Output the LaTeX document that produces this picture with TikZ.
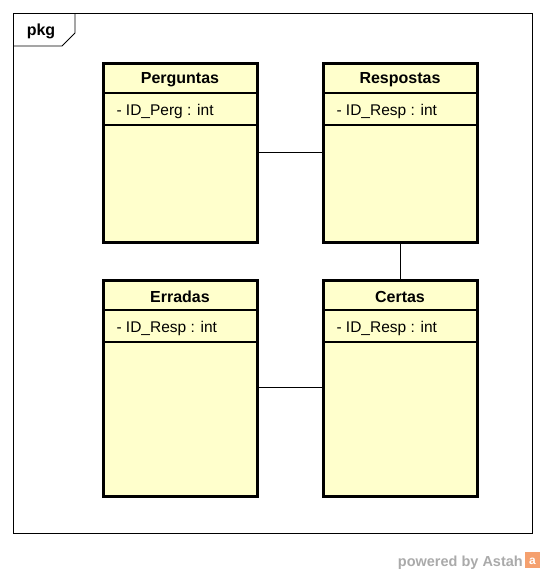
\documentclass[tikz,border=0pt]{standalone}
\usepackage{fontspec}
\setmainfont{Liberation Sans}
\definecolor{clsfill}{RGB}{255,255,204}
\definecolor{wmgray}{RGB}{170,170,170}
\definecolor{astahor}{RGB}{245,160,110}
\tikzset{
  clsbox/.style={draw=black, line width=3pt, fill=clsfill, minimum width=154pt, inner sep=0pt, outer sep=0pt, anchor=north west},
  clstitle/.style={font=\bfseries\fontsize{16}{18}\selectfont, anchor=center},
  clsattr/.style={font=\fontsize{15.5}{18}\selectfont, anchor=west},
  sep/.style={line width=1.3pt},
  conn/.style={draw=black, line width=0.9pt},
}
\begin{document}
\begin{tikzpicture}[x=1pt,y=-1pt]
\useasboundingbox (0,0) rectangle (545,574);
% frame
\draw[line width=0.9pt] (13,13) rectangle (532,533);
\draw[line width=0.9pt] (75,13) -- (75,33) -- (62,46) -- (13,46);
\node[font=\bfseries\fontsize{16}{18}\selectfont] (pkg) at (41,31) {pkg};

% class boxes
\newcommand{\umlclass}[6]{%
  % #1 name, #2 x, #3 y, #4 height, #5 title, #6 attr
  \node[clsbox, minimum height=#4pt] (#1) at (#2,#3) {};
  \draw[sep] ([yshift=-30pt]#1.north west) -- ([yshift=-30pt]#1.north east);
  \draw[sep] ([yshift=-62pt]#1.north west) -- ([yshift=-62pt]#1.north east);
  \node[clstitle] (#1t) at ([yshift=-17pt]#1.north) {#5};
  \node[clsattr] (#1a) at ([xshift=10pt,yshift=-48.5pt]#1.north west) {#6};
}
\umlclass{perg}{103}{63}{179}{Perguntas}{- ID\_Perg : int}
\umlclass{resp}{323}{63}{179}{Respostas}{- ID\_Resp : int}
\umlclass{err}{103}{280}{216}{Erradas}{- ID\_Resp : int}
\umlclass{cert}{323}{280}{216}{Certas}{- ID\_Resp : int}

% connectors
\draw[conn] (perg.east |- 0,152) -- (resp.west |- 0,152);
\draw[conn] (resp.south) -- (cert.north);
\draw[conn] (err.east |- 0,387) -- (cert.west |- 0,387);

% watermark
\node[font=\bfseries\fontsize{14.5}{16}\selectfont, text=wmgray, anchor=base east, inner sep=0pt] (wm) at (523,566) {powered by Astah};
\fill[astahor] (525,552) rectangle (540,568);
\node[font=\bfseries\fontsize{12}{12}\selectfont, text=white, inner sep=0pt] (wmi) at (532.5,561.5) {a};
\end{tikzpicture}
\end{document}
